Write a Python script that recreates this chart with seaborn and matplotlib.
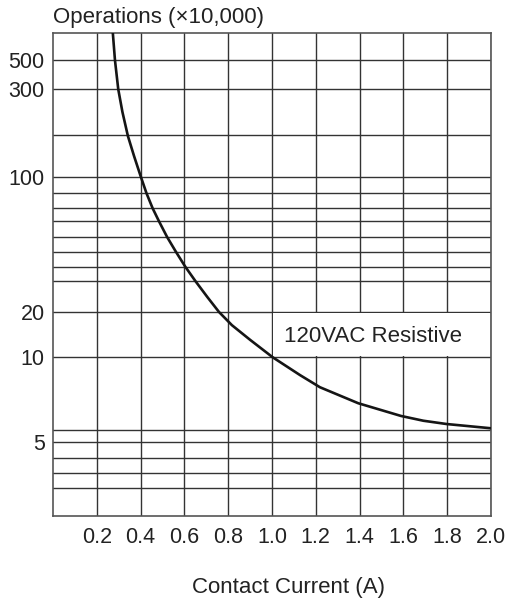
import numpy as np
import pandas as pd
import matplotlib
matplotlib.use("Agg")
import matplotlib.pyplot as plt
import matplotlib.patches as mpatches
import seaborn as sns

# data (contact current in A, operations x10,000)
current = [0.273, 0.283, 0.298, 0.317, 0.342, 0.370, 0.401, 0.427, 0.455, 0.484,
           0.521, 0.561, 0.604, 0.651, 0.705, 0.758, 0.817, 0.900, 1.003, 1.128,
           1.219, 1.394, 1.589, 1.691, 1.798, 2.0]
operations = [1000, 500, 300, 250.7, 198.3, 150, 100, 90, 80, 70,
              60, 50, 40, 30, 24.9, 20.1, 17.1, 13.8, 9.97, 9.0,
              8.34, 7.47, 6.78, 6.52, 6.34, 6.11]

x_ticks = [0.2, 0.4, 0.6, 0.8, 1.0, 1.2, 1.4, 1.6, 1.8, 2.0]
y_labeled = [5, 10, 20, 100, 300, 500]
y_grid = [2, 3, 4, 6, 30, 40, 50, 60, 70, 80, 90, 200]

# the printed chart paper has an irregular vertical scale: value -> height
scale_vals = [1, 2, 3, 4, 5, 6, 10, 20, 30, 40, 50, 60, 70, 80, 90, 100, 200, 300, 500, 1000]
scale_pos = [0, 28, 42.7, 57.7, 73.7, 85.7, 159.3, 203.7, 234.7, 249.3,
             264.3, 279, 294.7, 307.7, 322.7, 339.3, 380.7, 426.7, 455.7, 483.5]


def fwd(v):
    return np.interp(v, scale_vals, scale_pos)


def inv(p):
    return np.interp(p, scale_pos, scale_vals)


df = pd.DataFrame({"current": current, "operations": operations})

sns.set_style("white")
plt.rcParams["font.family"] = ["Liberation Sans", "DejaVu Sans"]

fig = plt.figure(figsize=(5.09, 6.02), dpi=100)
ax = fig.add_axes([53 / 509, 1 - 516 / 602, 438 / 509, (516 - 32.5) / 602])

ax.set_yscale("function", functions=(fwd, inv))
ax.set_xlim(0, 2.0)
ax.set_ylim(1, 1000)

ax.set_xticks(x_ticks)
ax.set_xticklabels([f"{t:.1f}" for t in x_ticks])
ax.set_yticks(y_labeled)
ax.set_yticklabels([str(t) for t in y_labeled])
ax.set_yticks(y_grid, minor=True)
ax.yaxis.set_minor_formatter(matplotlib.ticker.NullFormatter())

ax.set_axisbelow(True)
ax.grid(True, which="both", axis="y", color="#333333", lw=1.0)
ax.grid(True, which="major", axis="x", color="#333333", lw=1.0)
ax.tick_params(which="both", length=0, labelsize=15.5, labelcolor="#222222")
ax.tick_params(axis="y", pad=6)
ax.tick_params(axis="x", pad=8)

for s in ax.spines.values():
    s.set_color("#555555")
    s.set_linewidth(1.2)

# white label box between the 10 and 20 lines
ax.add_patch(mpatches.Rectangle((1.006, 10.25), 0.988, 9.5, facecolor="white",
                                edgecolor="none", zorder=1.5))
ax.text(1.055, 13.3, "120VAC Resistive", fontsize=16, color="#222222",
        ha="left", va="baseline", zorder=3)

sns.lineplot(data=df, x="current", y="operations", ax=ax, color="#151515",
             lw=1.9, zorder=4)
ax.set_xlabel("")
ax.set_ylabel("")

fig.text(53 / 509, 1 - 17 / 602, "Operations (\u00d710,000)", fontsize=16,
         color="#222222", ha="left", va="center")
fig.text(289 / 509, 1 - 587 / 602, "Contact Current (A)", fontsize=16,
         color="#222222", ha="center", va="center")

fig.savefig("out.png", dpi=100, facecolor="white")
